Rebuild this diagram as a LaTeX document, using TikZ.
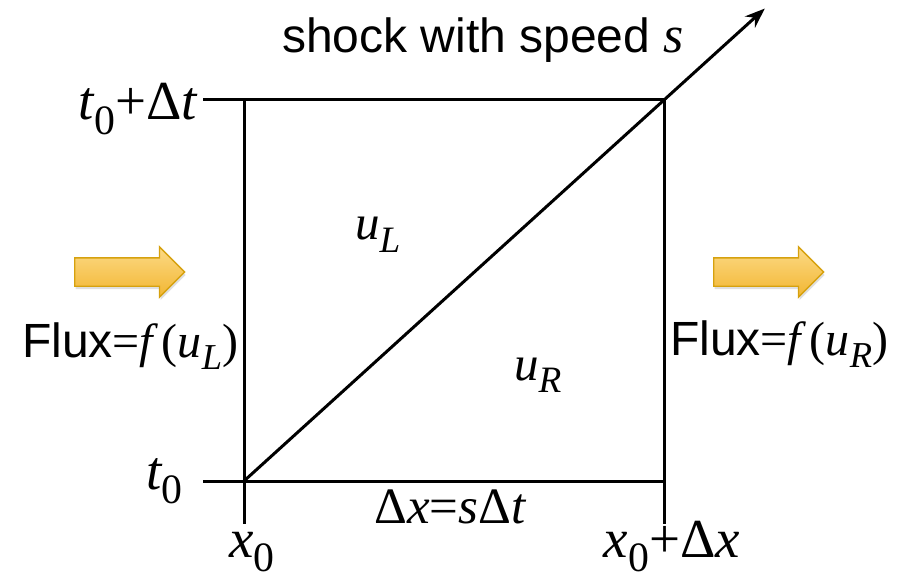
\documentclass[tikz,border=0pt]{standalone}
\usepackage{fontspec}
\setmainfont{Liberation Sans}
\newfontfamily\tnr{Liberation Serif}
\usetikzlibrary{arrows.meta,calc,shapes.arrows,shadows}
\definecolor{goldline}{HTML}{D6A10E}
\definecolor{goldtop}{HTML}{FCDA86}
\definecolor{goldbot}{HTML}{F2B632}
\newcommand{\mv}[1]{{\tnr\itshape #1}}
\newcommand{\mr}[1]{{\tnr #1}}
\newcommand{\msub}[1]{\raisebox{-0.26em}{\scalebox{0.76}{\tnr #1}}}
\tikzset{axis/.style={line width=3pt,line cap=butt},fluxarrow/.style={single arrow,draw=goldline,line width=1.4pt,top color=goldtop,bottom color=goldbot,minimum height=110pt,inner xsep=0pt,inner ysep=13.5pt,single arrow head extend=11pt,anchor=tail,drop shadow={shadow xshift=1pt,shadow yshift=-3pt,opacity=0.25}}}

\begin{document}
\begin{tikzpicture}[x=1pt,y=-1pt,bigmath/.style={font=\fontsize{55}{60}\selectfont,inner sep=0pt},midmath/.style={font=\fontsize{51}{56}\selectfont,inner sep=0pt},cellmath/.style={font=\fontsize{49}{54}\selectfont,inner sep=0pt},txt/.style={font=\fontsize{48}{53}\selectfont,inner sep=0pt}]
\useasboundingbox (0,0) rectangle (913,580);
\coordinate (bl) at (244,481);
\coordinate (tl) at (244,100);
\coordinate (tr) at (664,100);
\coordinate (br) at (664,481);
\coordinate (tickT) at (203,100);
\coordinate (tickB) at (203,481);
\coordinate (footL) at (244,524);
\coordinate (footR) at (664,524);
\draw[axis] (tickT) -- (tr) -- (footR);
\draw[axis] (tl) -- (footL);
\draw[axis] (tickB) -- (br);
\draw[axis,-{Stealth[length=20pt,width=15pt]}] (bl) -- ($(bl)!1.24!(tr)$) coordinate (tip);
\node[txt,anchor=base west] (shock) at (282,53) {shock with speed \mv{\fontsize{52}{56}\selectfont s}};
\node[bigmath,anchor=base east] (ttop) at (197,120) {\mv{t}\msub{0}\mr{+Δ}\mv{t}};
\node[bigmath,anchor=base east] (tbot) at (183,489) {\mv{t}\msub{0}};
\node[bigmath,anchor=base] (xl) at (252,557) {\mv{x}\msub{0}};
\node[bigmath,anchor=base] (xr) at (672,557) {\mv{x}\msub{0}\mr{+Δ}\mv{x}};
\node[midmath,anchor=base] (dx) at (450,523) {\mr{Δ}\mv{x}\mr{=}\mv{s}\mr{Δ}\mv{t}};
\node[cellmath,anchor=base west] (uL) at (355,240) {\mv{u}\msub{\itshape L}};
\node[cellmath,anchor=base west] (uR) at (514,380) {\mv{u}\msub{\itshape R}};
\node[fluxarrow] (inflow) at (74,272) {};
\node[fluxarrow] (outflow) at (713,272) {};
\node[txt,anchor=base west] (fluxL) at (22,357) {Flux\mr{=}\mv{f\/}\kern3pt\mr{(}\mv{u}\msub{\itshape L}\mr{)}};
\node[txt,anchor=base west] (fluxR) at (670,355) {Flux\mr{=}\mv{f\/}\kern3pt\mr{(}\mv{u}\msub{\itshape R}\mr{)}};
\end{tikzpicture}
\end{document}
